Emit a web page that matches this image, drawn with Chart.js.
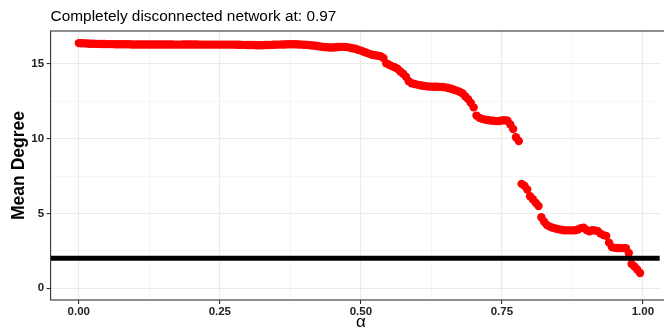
<!DOCTYPE html>
<html>
<head>
<meta charset="utf-8">
<script src="https://cdn.jsdelivr.net/npm/chart.js@4.4.1/dist/chart.umd.min.js"></script>
<style>
  html, body { margin: 0; padding: 0; background: #ffffff; overflow: hidden; }
  #wrap { width: 664px; height: 332px; }
</style>
</head>
<body>
<div id="wrap"><canvas id="c" width="664" height="332"></canvas></div>
<script>
// Mean degree of the network as edges are removed with increasing alpha
const titleText = "Completely disconnected network at: 0.97";
const xTitle = "\u03B1";
const yTitle = "Mean Degree";

const alpha = [
  0.000, 0.005, 0.010, 0.015, 0.020, 0.025, 0.030, 0.035, 0.040, 0.045,
  0.050, 0.055, 0.060, 0.065, 0.070, 0.075, 0.080, 0.085, 0.090, 0.095,
  0.100, 0.105, 0.110, 0.115, 0.120, 0.125, 0.130, 0.135, 0.140, 0.145,
  0.150, 0.155, 0.160, 0.165, 0.170, 0.175, 0.180, 0.185, 0.190, 0.195,
  0.200, 0.205, 0.210, 0.215, 0.220, 0.225, 0.230, 0.235, 0.240, 0.245,
  0.250, 0.255, 0.260, 0.265, 0.270, 0.275, 0.280, 0.285, 0.290, 0.295,
  0.300, 0.305, 0.310, 0.315, 0.320, 0.325, 0.330, 0.335, 0.340, 0.345,
  0.350, 0.355, 0.360, 0.365, 0.370, 0.375, 0.380, 0.385, 0.390, 0.395,
  0.400, 0.405, 0.410, 0.415, 0.420, 0.425, 0.430, 0.435, 0.440, 0.445,
  0.450, 0.455, 0.460, 0.465, 0.470, 0.475, 0.480, 0.485, 0.490, 0.495,
  0.500, 0.505, 0.510, 0.515, 0.520, 0.525, 0.530, 0.535, 0.540, 0.545,
  0.550, 0.555, 0.560, 0.565, 0.570, 0.575, 0.580, 0.585, 0.590, 0.595,
  0.600, 0.605, 0.610, 0.615, 0.620, 0.625, 0.630, 0.635, 0.640, 0.645,
  0.650, 0.655, 0.660, 0.665, 0.670, 0.675, 0.680, 0.685, 0.690, 0.695,
  0.700, 0.705, 0.710, 0.715, 0.720, 0.725, 0.730, 0.735, 0.740, 0.745,
  0.750, 0.755, 0.760, 0.765, 0.770, 0.775, 0.780, 0.785, 0.790, 0.795,
  0.800, 0.805, 0.810, 0.815, 0.820, 0.825, 0.830, 0.835, 0.840, 0.845,
  0.850, 0.855, 0.860, 0.865, 0.870, 0.875, 0.880, 0.885, 0.890, 0.895,
  0.900, 0.905, 0.910, 0.915, 0.920, 0.925, 0.930, 0.935, 0.940, 0.945,
  0.950, 0.955, 0.960, 0.965, 0.970, 0.975, 0.980, 0.985, 0.990, 0.995
];

const meanDegree = [
  16.40, 16.39, 16.38, 16.37, 16.36, 16.36, 16.35, 16.35, 16.34, 16.34,
  16.33, 16.33, 16.33, 16.32, 16.32, 16.32, 16.32, 16.32, 16.32, 16.31,
  16.31, 16.31, 16.31, 16.31, 16.31, 16.31, 16.31, 16.31, 16.31, 16.31,
  16.31, 16.31, 16.31, 16.31, 16.30, 16.30, 16.30, 16.31, 16.31, 16.31,
  16.31, 16.31, 16.31, 16.30, 16.30, 16.30, 16.30, 16.30, 16.30, 16.30,
  16.30, 16.30, 16.30, 16.30, 16.30, 16.30, 16.29, 16.29, 16.28, 16.28,
  16.27, 16.27, 16.27, 16.26, 16.26, 16.26, 16.27, 16.27, 16.28, 16.29,
  16.30, 16.30, 16.31, 16.31, 16.32, 16.32, 16.32, 16.32, 16.31, 16.30,
  16.29, 16.28, 16.26, 16.24, 16.22, 16.19, 16.16, 16.14, 16.12, 16.11,
  16.11, 16.12, 16.14, 16.15, 16.15, 16.13, 16.10, 16.06, 16.02, 15.96,
  15.90, 15.82, 15.75, 15.68, 15.62, 15.59, 15.56, 15.52, 15.40, 15.05,
  14.95, 14.86, 14.78, 14.68, 14.50, 14.35, 14.15, 13.85, 13.72, 13.66,
  13.62, 13.58, 13.55, 13.52, 13.50, 13.49, 13.48, 13.48, 13.47, 13.46,
  13.44, 13.40, 13.35, 13.28, 13.22, 13.14, 13.04, 12.85, 12.65, 12.40,
  12.10, 11.55, 11.40, 11.33, 11.28, 11.25, 11.22, 11.20, 11.18, 11.19,
  11.22, 11.24, 11.20, 10.95, 10.65, 10.10, 9.85, 6.98, 6.85, 6.60,
  6.15, 5.95, 5.72, 5.50, 4.75, 4.45, 4.22, 4.12, 4.05, 4.00,
  3.95, 3.91, 3.88, 3.87, 3.87, 3.87, 3.88, 3.93, 4.02, 4.05,
  3.90, 3.80, 3.88, 3.86, 3.82, 3.65, 3.55, 3.50, 3.05, 2.75,
  2.70, 2.69, 2.68, 2.68, 2.68, 2.35, 1.62, 1.45, 1.25, 1.02
];

const threshold = 2;

const xMajorTicks = [0, 0.25, 0.5, 0.75, 1];
const xMinorTicks = [0.125, 0.375, 0.625, 0.875];
const yMajorTicks = [0, 5, 10, 15];
const yMinorTicks = [2.5, 7.5, 12.5];
// the panel runs past the right edge of the canvas, so the visible x range stops short of 1.05
const xLimits = [-0.05, 1.03];
const xPanelCentre = 0.5;
const yLimits = [-0.79, 17.21];

const FONT = "'Liberation Sans', Arial, sans-serif";
const GRID_MAJOR = '#EBEBEB';
const GRID_MINOR = '#F0F0F0';
const AXIS_DARK = '#333333';

const points = alpha.map((a, i) => ({ x: a, y: meanDegree[i] }));

function buildTicks(major, minor) {
  return scale => {
    scale.ticks = major.concat(minor).sort((a, b) => a - b).map(v => ({ value: v }));
  };
}

// plot title above the panel, and the x-axis title centred on the full panel
const plotTexts = {
  id: 'plotTexts',
  afterDraw(chart) {
    const ctx = chart.ctx;
    ctx.save();
    ctx.fillStyle = '#000000';
    ctx.font = "15.4px " + FONT;
    ctx.textAlign = 'left';
    ctx.textBaseline = 'alphabetic';
    ctx.fillText(titleText, chart.chartArea.left, 20.5);

    ctx.font = "17px " + FONT;
    ctx.textAlign = 'center';
    ctx.fillText(xTitle, chart.scales.x.getPixelForValue(xPanelCentre), 326.5);
    ctx.restore();
  }
};

const panelBorder = {
  id: 'panelBorder',
  afterDraw(chart) {
    const a = chart.chartArea;
    const ctx = chart.ctx;
    ctx.save();
    ctx.strokeStyle = AXIS_DARK;
    ctx.lineWidth = 1.1;
    // right side of the panel lies outside the canvas
    ctx.strokeRect(a.left, a.top, a.right - a.left + 20, a.bottom - a.top);
    ctx.restore();
  }
};

new Chart(document.getElementById('c'), {
  type: 'scatter',
  data: {
    datasets: [
      {
        type: 'line',
        data: [{ x: xLimits[0], y: threshold }, { x: xLimits[1], y: threshold }],
        borderColor: '#000000',
        borderWidth: 5,
        pointRadius: 0,
        order: 0
      },
      {
        data: points,
        backgroundColor: '#FF0000',
        borderWidth: 0,
        pointRadius: 4.2,
        pointHoverRadius: 4.2,
        order: 1
      }
    ]
  },
  options: {
    responsive: false,
    animation: false,
    devicePixelRatio: 1,
    layout: { padding: { top: 31, right: 0, left: 0, bottom: 0 } },
    plugins: {
      legend: { display: false },
      tooltip: { enabled: false },
      title: { display: false }
    },
    scales: {
      x: {
        type: 'linear',
        min: xLimits[0],
        max: xLimits[1],
        afterBuildTicks: buildTicks(xMajorTicks, xMinorTicks),
        afterFit: s => { s.height = 32; },
        border: { display: false },
        grid: {
          color: c => xMajorTicks.includes(c.tick.value) ? GRID_MAJOR : GRID_MINOR,
          lineWidth: c => xMajorTicks.includes(c.tick.value) ? 1.1 : 0.6,
          tickColor: c => xMajorTicks.includes(c.tick.value) ? AXIS_DARK : 'rgba(0,0,0,0)',
          tickWidth: 1.1,
          tickLength: 4
        },
        ticks: {
          autoSkip: false,
          maxRotation: 0,
          padding: 0.5,
          color: '#222222',
          font: { family: FONT, size: 11.5, weight: 'bold' },
          callback: v => xMajorTicks.includes(v) ? v.toFixed(2) : ''
        },
        title: { display: false }
      },
      y: {
        type: 'linear',
        min: yLimits[0],
        max: yLimits[1],
        afterBuildTicks: buildTicks(yMajorTicks, yMinorTicks),
        afterFit: s => { s.width = 50.6; },
        border: { display: false },
        grid: {
          color: c => yMajorTicks.includes(c.tick.value) ? GRID_MAJOR : GRID_MINOR,
          lineWidth: c => yMajorTicks.includes(c.tick.value) ? 1.1 : 0.6,
          tickColor: c => yMajorTicks.includes(c.tick.value) ? AXIS_DARK : 'rgba(0,0,0,0)',
          tickWidth: 1.1,
          tickLength: 4
        },
        ticks: {
          autoSkip: false,
          padding: 2.5,
          color: '#222222',
          font: { family: FONT, size: 11.5, weight: 'bold' },
          callback: v => yMajorTicks.includes(v) ? String(v) : ''
        },
        title: {
          display: true,
          text: yTitle,
          color: '#000000',
          font: { family: FONT, size: 17.5, weight: 'bold' },
          padding: { top: 9, bottom: 0 }
        }
      }
    }
  },
  plugins: [plotTexts, panelBorder]
});
</script>
</body>
</html>
